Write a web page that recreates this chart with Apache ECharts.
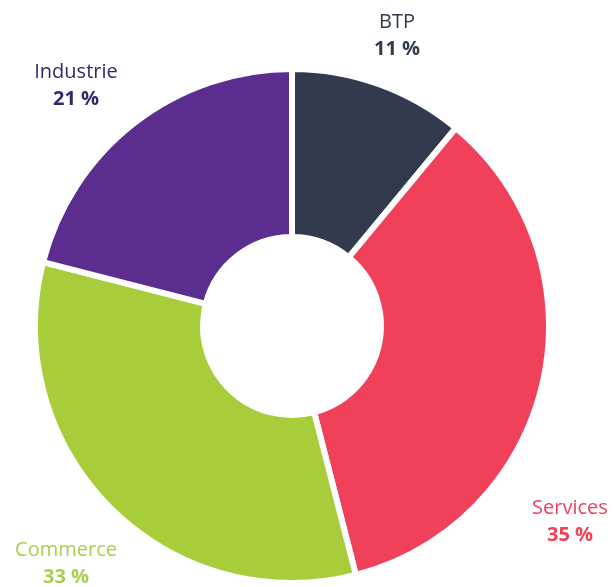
<!DOCTYPE html>
<html>
<head>
<meta charset="utf-8">
<script src="https://cdn.jsdelivr.net/npm/echarts@6/dist/echarts.min.js"></script>
<style>
  html, body { margin: 0; padding: 0; background: #fff; }
  #chart { width: 614px; height: 587px; }
</style>
</head>
<body>
<div id="chart"></div>
<script>
const categories = ['BTP', 'Services', 'Commerce', 'Industrie'];
const values = [11, 35, 33, 21];
const colors = ['#323a4e', '#f0405a', '#a8cd3a', '#5b2d8e'];
const labelColors = ['#323a4e', '#f0405a', '#a5cf4e', '#33276f'];

// where each label sits (label centre, px)
const labelPos = {
  BTP: [397, 36],
  Services: [570, 522],
  Commerce: [66, 564],
  Industrie: [76, 86]
};

const chart = echarts.init(document.getElementById('chart'));

chart.setOption({
  animation: false,
  series: [{
    type: 'pie',
    center: [292, 326],
    radius: [89, 257],
    startAngle: 90,
    clockwise: true,
    data: categories.map((name, i) => ({
      name: name,
      value: values[i],
      itemStyle: { color: colors[i] },
      label: {
        rich: {
          n: { color: labelColors[i], fontSize: 20, fontFamily: 'Open Sans', lineHeight: 27 },
          p: { color: labelColors[i], fontSize: 20, fontWeight: 'bold', fontFamily: 'Open Sans', lineHeight: 27 }
        }
      }
    })),
    itemStyle: { borderColor: '#fff', borderWidth: 6 },
    label: {
      show: true,
      position: 'outside',
      align: 'center',
      overflow: 'none',
      edgeDistance: 0,
      bleedMargin: 0,
      formatter: p => '{n|' + p.name + '}\n{p|' + p.value + ' %}'
    },
    labelLine: { show: false },
    labelLayout: function (params) {
      const name = categories[params.dataIndex];
      const pos = labelPos[name];
      return { x: pos[0], y: pos[1], align: 'center', verticalAlign: 'middle' };
    }
  }]
});
</script>
</body>
</html>
